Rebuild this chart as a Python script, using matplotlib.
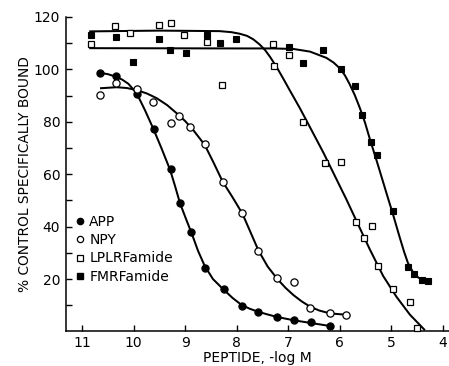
import matplotlib
matplotlib.use("Agg")
import matplotlib.pyplot as plt
from matplotlib.lines import Line2D

# ---- data ----
app_x = [10.65, 10.34, 9.93, 9.61, 9.28, 9.10, 8.89, 8.61, 8.25, 7.89, 7.58, 7.21, 6.89, 6.56, 6.19]
app_y = [98.7, 97.3, 90.5, 77.3, 61.9, 48.9, 38.1, 24.3, 16.4, 9.8, 7.6, 5.7, 4.3, 3.7, 2.1]

npy_x = [10.65, 10.34, 9.94, 9.62, 9.28, 9.11, 8.91, 8.62, 8.27, 7.89, 7.58, 7.21, 6.89, 6.57, 6.19, 5.88]
npy_y = [90.2, 94.7, 92.4, 87.5, 79.6, 82.2, 77.9, 71.4, 57.1, 45.3, 30.8, 20.5, 18.7, 9.1, 6.9, 6.4]

lplr_x = [10.83, 10.36, 10.07, 9.51, 9.27, 9.03, 8.57, 8.28, 7.30, 7.28, 6.99, 6.71, 6.28, 5.98,
          5.69, 5.53, 5.37, 5.25, 4.97, 4.64, 4.50]
lplr_y = [109.6, 116.6, 113.9, 116.8, 117.8, 113.0, 110.5, 94.2, 109.6, 101.2, 105.5, 79.8, 64.2, 64.8,
          41.9, 35.6, 40.2, 24.8, 16.4, 11.1, 1.2]

fmrf_x = [10.83, 10.35, 10.01, 9.51, 9.29, 8.98, 8.57, 8.32, 8.02, 6.99, 6.71, 6.32, 5.98, 5.70,
          5.57, 5.39, 5.27, 4.97, 4.67, 4.56, 4.41, 4.29]
fmrf_y = [113.2, 112.5, 102.7, 111.7, 107.4, 106.4, 113.0, 110.2, 111.6, 108.7, 102.3, 107.5, 100.2, 93.8,
          82.5, 72.4, 67.5, 45.8, 24.7, 21.8, 19.5, 19.2]

# fitted curves
app_cx = [10.66, 10.50, 10.34, 10.22, 10.10, 9.94, 9.78, 9.62, 9.46, 9.29, 9.20, 9.10, 8.98, 8.87,
          8.75, 8.62, 8.46, 8.26, 8.08, 7.91, 7.75, 7.58, 7.40, 7.23, 6.90, 6.55, 6.19]
app_cy = [98.7, 98.2, 97.2, 96.1, 94.5, 90.9, 84.5, 77.5, 70.0, 61.6, 55.8, 49.0, 42.8, 37.3,
          30.8, 25.0, 20.0, 16.1, 12.8, 10.2, 8.7, 7.5, 6.5, 5.6, 4.3, 3.2, 2.1]

npy_cx = [10.65, 10.33, 10.13, 9.94, 9.74, 9.55, 9.35, 9.16, 9.00, 8.84, 8.62, 8.45, 8.27, 8.08,
          7.89, 7.73, 7.58, 7.40, 7.21, 7.05, 6.90, 6.74, 6.58, 6.40, 6.19, 5.88]
npy_cy = [92.8, 93.2, 92.9, 92.1, 90.8, 89.0, 86.4, 83.2, 80.3, 76.8, 71.2, 64.5, 57.1, 51.2,
          45.0, 37.8, 31.0, 24.8, 20.0, 16.6, 13.9, 11.5, 9.5, 8.0, 6.9, 6.4]

lplr_cx = [10.86, 9.50, 8.33, 8.10, 7.94, 7.80, 7.68, 7.56, 7.45, 7.35, 7.22, 7.10, 6.97, 6.78,
           6.65, 6.32, 6.13, 5.87, 5.68, 5.42, 5.16, 4.90, 4.64, 4.35]
lplr_cy = [114.5, 114.8, 114.6, 114.2, 113.6, 112.8, 111.5, 109.6, 107.4, 104.7, 100.7, 96.6, 92.0, 85.4,
           80.6, 68.3, 60.7, 50.3, 42.3, 31.4, 21.2, 13.2, 6.4, 0.5]

fmrf_cx = [10.86, 8.00, 7.30, 6.90, 6.58, 6.26, 6.12, 6.00, 5.90, 5.81, 5.71, 5.61, 5.51, 5.42,
           5.26, 5.16, 5.06, 4.97, 4.84, 4.75, 4.68, 4.58, 4.48, 4.38, 4.29]
fmrf_cy = [108.1, 108.0, 108.0, 107.8, 106.8, 104.4, 102.6, 100.4, 97.7, 94.4, 90.2, 85.2, 79.6, 73.6,
           63.5, 57.0, 50.5, 44.8, 36.0, 30.2, 26.2, 22.6, 20.6, 19.6, 19.2]

labels = ["APP", "NPY", "LPLRFamide", "FMRFamide"]
x_ticks = [11, 10, 9, 8, 7, 6, 5, 4]
y_ticks = [10, 20, 30, 40, 50, 60, 70, 80, 90, 100, 110, 120]
y_ticklabels = ["", "20", "", "40", "", "60", "", "80", "", "100", "", "120"]

plt.rcParams['font.family'] = ['DejaVu Sans']

fig = plt.figure(figsize=(4.49, 3.66), dpi=100)
ax = fig.add_axes([0.1463, 0.0943, 0.854, 0.8593])

lw = 1.45
for cx, cy in [(app_cx, app_cy), (npy_cx, npy_cy), (lplr_cx, lplr_cy), (fmrf_cx, fmrf_cy)]:
    ax.plot(cx, cy, color='black', lw=lw, zorder=2, solid_capstyle='butt', solid_joinstyle='round')

ms_c = 5.2
ms_s = 4.6
ax.plot(app_x, app_y, 'o', ms=ms_c, mfc='black', mec='black', mew=0.8, zorder=3, clip_on=False)
ax.plot(npy_x, npy_y, 'o', ms=ms_c, mfc='white', mec='black', mew=0.9, zorder=3, clip_on=False)
ax.plot(lplr_x, lplr_y, 's', ms=ms_s, mfc='white', mec='black', mew=0.9, zorder=3, clip_on=False)
ax.plot(fmrf_x, fmrf_y, 's', ms=ms_s, mfc='black', mec='black', mew=0.8, zorder=3, clip_on=False)

ax.set_xlim(11.316, 3.88)
ax.set_ylim(0, 120)
ax.set_xticks(x_ticks)
ax.set_xticklabels([str(t) for t in x_ticks])
ax.set_yticks(y_ticks)
ax.set_yticklabels(y_ticklabels)

for s in ['top', 'right']:
    ax.spines[s].set_visible(False)
for s in ['left', 'bottom']:
    ax.spines[s].set_linewidth(1.1)

ax.tick_params(axis='both', direction='in', length=4.3, width=1.0, labelsize=10)
ax.tick_params(axis='y', pad=4)
ax.tick_params(axis='x', pad=3.5)

ax.set_xlabel("PEPTIDE, -log M", fontsize=10, labelpad=0.5)
ax.set_ylabel("% CONTROL SPECIFICALLY BOUND", fontsize=9.9, labelpad=1.5)

handles = [
    Line2D([], [], ls='none', marker='o', ms=4.5, mfc='black', mec='black'),
    Line2D([], [], ls='none', marker='o', ms=4.5, mfc='white', mec='black', mew=0.9),
    Line2D([], [], ls='none', marker='s', ms=4.0, mfc='white', mec='black', mew=0.9),
    Line2D([], [], ls='none', marker='s', ms=4.0, mfc='black', mec='black'),
]
ax.legend(handles, labels, loc='upper left', bbox_to_anchor=(0.027, 0.37), frameon=False,
          fontsize=10, handlelength=0.6, handletextpad=0.35, labelspacing=0.3,
          borderaxespad=0, borderpad=0, numpoints=1)

fig.savefig("out.png", dpi=100)
